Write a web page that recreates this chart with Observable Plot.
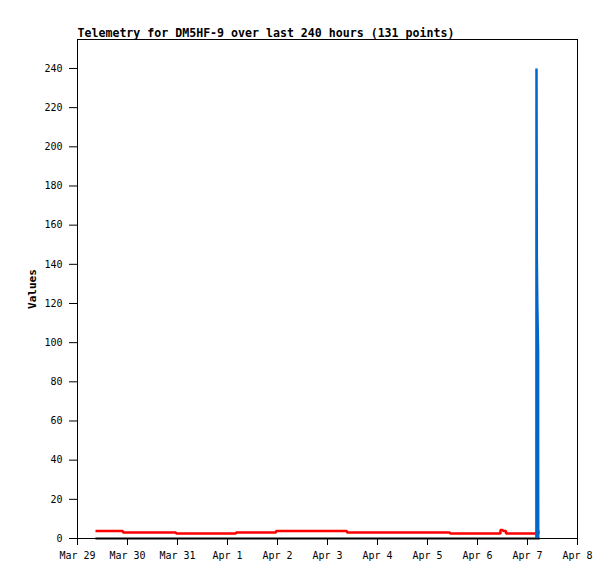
<!DOCTYPE html>
<html>
<head>
<meta charset="utf-8">
<script src="https://cdn.jsdelivr.net/npm/d3@7"></script>
<script src="https://cdn.jsdelivr.net/npm/@observablehq/plot@0.6"></script>
<style>
  html, body { margin: 0; padding: 0; background: #fff; }
</style>
</head>
<body>
<div id="chart"></div>
<script>
// ---- data ----
const title = "Telemetry for DM5HF-9 over last 240 hours (131 points)";
const yLabel = "Values";

// red series: change points (step-after)
const redTimes = [
  "2024-03-29T08:38Z", "2024-03-29T21:50Z", "2024-03-30T23:17Z", "2024-04-01T04:05Z",
  "2024-04-01T23:17Z", "2024-04-03T09:22Z", "2024-04-05T10:48Z", "2024-04-06T11:02Z",
  "2024-04-06T12:14Z", "2024-04-06T13:41Z", "2024-04-07T05:17Z", "2024-04-07T05:46Z"
];
const redValues = [3.8, 3.1, 2.6, 3.1, 3.8, 3.1, 2.6, 4.3, 3.8, 2.6, 3.5, 3.5];

// blue series: burst at the end
const blueTimes = [
  "2024-04-07T04:16Z", "2024-04-07T04:19Z", "2024-04-07T04:28Z",
  "2024-04-07T04:42Z", "2024-04-07T05:05Z", "2024-04-07T05:08Z"
];
const blueValues = [0, 240, 144, 120, 96, 0];

// black series: flat at zero
const blackTimes = ["2024-03-29T08:38Z", "2024-04-07T05:46Z"];
const blackValues = [0, 0];

const xTickDates = [
  "2024-03-29", "2024-03-30", "2024-03-31", "2024-04-01", "2024-04-02", "2024-04-03",
  "2024-04-04", "2024-04-05", "2024-04-06", "2024-04-07", "2024-04-08"
];
const yTicks = [0, 20, 40, 60, 80, 100, 120, 140, 160, 180, 200, 220, 240];
const xDomain = ["2024-03-29", "2024-04-08"];
const yDomain = [0, 254.8];

// ---- build tables ----
const toRows = (ts, vs) => ts.map((t, i) => ({t: new Date(t), v: vs[i]}));
const red = toRows(redTimes, redValues);
const blue = toRows(blueTimes, blueValues);
const black = toRows(blackTimes, blackValues);
const xTicks = xTickDates.map(d => new Date(d + "T00:00Z"));

const chart = Plot.plot({
  width: 615,
  height: 579,
  marginLeft: 77,
  marginRight: 38,
  marginTop: 39,
  marginBottom: 41,
  style: {fontFamily: "DejaVu Sans Mono", fontSize: "10px", background: "#fff", color: "#000"},
  x: {type: "utc", domain: xDomain.map(d => new Date(d + "T00:00Z"))},
  y: {domain: yDomain},
  marks: [
    Plot.axisX({ticks: xTicks, tickFormat: d3.utcFormat("%b %-d"), tickSize: 7, tickPadding: 6, label: null, stroke: "#000"}),
    Plot.axisY({ticks: yTicks, tickSize: 8, tickPadding: 7, label: null, stroke: "#000"}),
    Plot.lineY(black, {x: "t", y: "v", stroke: "#000", strokeWidth: 2, strokeLinecap: "butt"}),
    Plot.lineY(red, {x: "t", y: "v", stroke: "#ff0000", strokeWidth: 2.5, curve: "step-after", strokeLinecap: "butt", strokeLinejoin: "miter"}),
    Plot.lineY(blue, {x: "t", y: "v", stroke: "#0066cc", strokeWidth: 2.5, strokeLinecap: "butt", strokeLinejoin: "miter"}),
    Plot.frame({stroke: "#000"}),
    Plot.text([title], {frameAnchor: "top-left", textAnchor: "start", lineAnchor: "bottom", dy: -3, fontWeight: "bold", fontSize: 11.6, fill: "#000"}),
    Plot.text([yLabel], {frameAnchor: "left", textAnchor: "middle", lineAnchor: "middle", dx: -45, rotate: -90, fontWeight: "bold", fontSize: 11, fill: "#000"})
  ]
});

document.getElementById("chart").appendChild(chart);
</script>
</body>
</html>
